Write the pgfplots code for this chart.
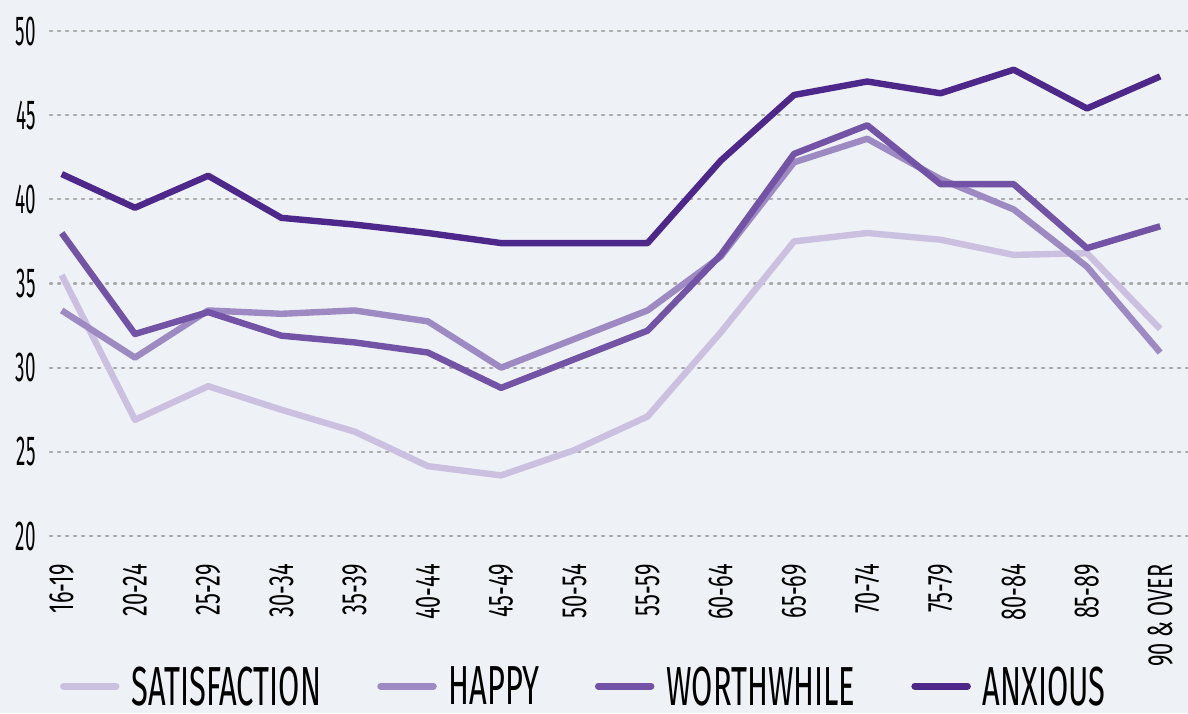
\documentclass[border=0pt]{standalone}
\usepackage{fontspec}
\setmainfont{Fira Sans}
\newfontfamily\ytfont{Fira Sans}[FakeStretch=0.45]
\newfontfamily\xtfont{Fira Sans}[FakeStretch=0.62]
\newfontfamily\lgfont{Fira Sans}[FakeStretch=0.56]
\usepackage{pgfplots}
\pgfplotsset{compat=1.18}
\definecolor{bgc}{HTML}{EEF1F5}
\definecolor{csat}{HTML}{CBC0E0}
\definecolor{chap}{HTML}{9D8AC3}
\definecolor{cwor}{HTML}{7253A5}
\definecolor{canx}{HTML}{4D288A}
\definecolor{gridc}{HTML}{A9A9AC}
\begin{document}
\begin{tikzpicture}
\fill[bgc] (-25pt,-88.5pt) rectangle (569pt,268pt);
\begin{axis}[
  scale only axis,
  width=569pt, height=252.5pt,
  xmin=-0.16, xmax=15.38,
  ymin=20, ymax=50,
  axis line style={draw=none},
  major tick length=0pt,
  /pgf/number format/assume math mode=true,
  ytick={20,25,30,35,40,45,50},
  ymajorgrids,
  grid style={gridc, line width=1.1pt, dash pattern=on 1.1pt off 2.9pt, line cap=round},
  yticklabel style={font=\ytfont\fontsize{21}{21}\selectfont, anchor=east, inner sep=0pt, xshift=-7pt},
  xtick={0,...,15},
  xticklabels={16-19,20-24,25-29,30-34,35-39,40-44,45-49,50-54,55-59,60-64,65-69,70-74,75-79,80-84,85-89,90 \& OVER},
  xticklabel style={font=\xtfont\fontsize{17.5}{17.5}\selectfont, rotate=90, anchor=east, inner sep=0pt},
  xticklabel shift=14pt,
  legend columns=4,
  legend style={draw=none, fill=none, inner sep=0pt, outer sep=0pt,
    at={(5pt,-75pt)}, anchor=west,
    font=\lgfont\fontsize{27.5}{27.5}\selectfont,
    nodes={inner sep=0pt, text depth=0pt},
    /tikz/every odd column/.append style={column sep=6pt},
    /tikz/every even column/.append style={column sep=28pt}},
  legend image code/.code={\draw[#1, line width=3.5pt, line cap=round] (1.75pt,0pt) -- (28pt,0pt);},
  every axis plot/.append style={line width=3.2pt, line join=round, no markers},
  clip=false,
]
\addplot[csat] coordinates {(0,35.5) (1,26.9) (2,28.9) (3,27.5) (4,26.2) (5,24.15) (6,23.6) (7,25.1) (8,27.1) (9,32.1) (10,37.5) (11,38.0) (12,37.6) (13,36.7) (14,36.8) (15,32.3)};
\addlegendentry{SATISFACTION}
\addplot[chap] coordinates {(0,33.4) (1,30.6) (2,33.4) (3,33.2) (4,33.4) (5,32.75) (6,30.0) (7,31.7) (8,33.4) (9,36.6) (10,42.2) (11,43.6) (12,41.2) (13,39.4) (14,36.0) (15,30.9)};
\addlegendentry{HAPPY}
\addplot[cwor] coordinates {(0,38.0) (1,32.0) (2,33.3) (3,31.9) (4,31.5) (5,30.9) (6,28.8) (7,30.5) (8,32.2) (9,36.7) (10,42.7) (11,44.4) (12,40.9) (13,40.9) (14,37.1) (15,38.4)};
\addlegendentry{WORTHWHILE}
\addplot[canx] coordinates {(0,41.5) (1,39.5) (2,41.4) (3,38.9) (4,38.5) (5,38.0) (6,37.4) (7,37.4) (8,37.4) (9,42.3) (10,46.2) (11,47.0) (12,46.3) (13,47.7) (14,45.4) (15,47.3)};
\addlegendentry{ANXIOUS}
\end{axis}
\pgfresetboundingbox
\path[use as bounding box] (-25pt,-88.5pt) rectangle (569pt,268pt);
\end{tikzpicture}
\end{document}
